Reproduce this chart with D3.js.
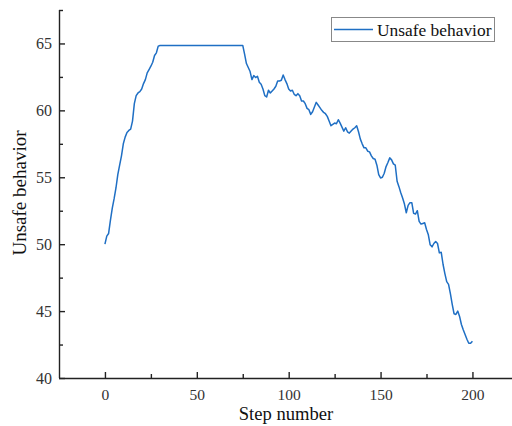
<!DOCTYPE html>
<html>
<head>
<meta charset="utf-8">
<script src="https://cdn.jsdelivr.net/npm/d3@7"></script>
<style>
  html, body { margin: 0; padding: 0; background: #fff; }
  svg { display: block; }
  text { font-family: "Liberation Serif", "Times New Roman", serif; }
</style>
</head>
<body>
<svg id="chart" width="512" height="426"></svg>
<script>
// Unsafe behavior level per simulation step (steps 0..200)
const rising = [
  50.0, 50.6, 50.8, 51.8, 52.7, 53.4, 54.2, 55.2, 55.9, 56.6,
  57.5, 58.0, 58.35, 58.5, 58.6, 59.2, 60.5, 61.1, 61.3, 61.4,
  61.6, 62.0, 62.3, 62.8, 63.05, 63.3, 63.6, 64.1, 64.3, 64.8
];
const plateau = [
  64.85, 64.85, 64.85, 64.85, 64.85, 64.85, 64.85, 64.85, 64.85, 64.85,
  64.85, 64.85, 64.85, 64.85, 64.85, 64.85, 64.85, 64.85, 64.85, 64.85,
  64.85, 64.85, 64.85, 64.85, 64.85, 64.85, 64.85, 64.85, 64.85, 64.85,
  64.85, 64.85, 64.85, 64.85, 64.85, 64.85, 64.85, 64.85, 64.85, 64.85,
  64.85, 64.85, 64.85, 64.85, 64.85, 64.85
];
const falling = [
  64.2, 63.5, 63.2, 62.9, 62.3, 62.6, 62.45, 62.55, 62.1, 61.95,
  61.6, 61.1, 61.0, 61.5, 61.3, 61.45, 61.6, 61.8, 62.2, 62.2,
  62.25, 62.65, 62.3, 62.0, 61.6, 61.45, 61.5, 61.2, 61.1, 61.25,
  61.1, 60.7, 60.7, 60.5, 60.15, 60.05, 59.7, 59.9, 60.25, 60.6,
  60.4, 60.2, 60.0, 59.85, 59.75, 59.55, 59.2, 58.85, 58.95, 59.05,
  59.0, 59.3, 59.05, 58.75, 58.45, 58.7, 58.4, 58.3, 58.45, 58.6,
  58.7, 58.85, 58.4, 57.85, 57.5, 57.2, 57.2, 56.95, 56.9, 56.6,
  56.4, 56.35, 55.9, 55.2, 54.95, 55.0, 55.3, 55.8, 56.1, 56.45,
  56.3, 56.0, 55.9, 54.7, 54.3, 53.85, 53.45, 53.0, 52.35, 52.9,
  53.1, 53.1, 52.3, 52.25, 52.5, 51.7, 51.5, 51.55, 51.6, 51.1,
  50.7, 49.95, 49.8, 50.05, 50.2, 50.05, 49.35, 49.4, 48.5, 47.8,
  47.2, 47.0, 46.3, 45.5, 44.8, 44.75, 45.0, 44.6, 44.0, 43.6,
  43.25, 42.9, 42.6, 42.6, 42.75
];
const unsafeValues = rising.concat(plateau, falling);

const xMajorTicks = [0, 50, 100, 150, 200];
const xMinorTicks = [25, 75, 125, 175];
const yMajorTicks = [40, 45, 50, 55, 60, 65];
const yMinorTicks = [42.5, 47.5, 52.5, 57.5, 62.5, 67.5];

const seriesName = "Unsafe behavior";
const xTitle = "Step number";
const yTitle = "Unsafe behavior";

const svg = d3.select("#chart");
const plotLeft = 59, plotBottom = 378, plotTop = 10;

const x = d3.scaleLinear().domain([-25, 225]).range([plotLeft, plotLeft + 250 * 1.8375]);
const y = d3.scaleLinear().domain([40, 67.5]).range([plotBottom, plotTop]);

const axisColor = "#222";

// minor ticks (inward, no labels)
svg.append("g")
  .attr("transform", `translate(0,${plotBottom})`)
  .call(d3.axisTop(x).tickValues(xMinorTicks).tickSize(4).tickFormat(""))
  .call(g => g.select(".domain").remove());
svg.append("g")
  .attr("transform", `translate(${plotLeft},0)`)
  .call(d3.axisRight(y).tickValues(yMinorTicks).tickSize(4).tickFormat(""))
  .call(g => g.select(".domain").remove());

// major ticks, inward, with labels placed outside
const xAxis = svg.append("g")
  .attr("transform", `translate(0,${plotBottom})`)
  .call(d3.axisTop(x).tickValues(xMajorTicks).tickSize(6).tickFormat(d3.format("d")));
xAxis.select(".domain").attr("d", `M${x.range()[0]},0.5H${x.range()[1]}`);
xAxis.selectAll(".tick text")
  .attr("y", 21.5).attr("dy", 0)
  .attr("font-size", 15.5)
  .attr("font-family", "Liberation Serif, serif");

const yAxis = svg.append("g")
  .attr("transform", `translate(${plotLeft},0)`)
  .call(d3.axisRight(y).tickValues(yMajorTicks).tickSize(6).tickFormat(d3.format("d")));
yAxis.select(".domain").attr("d", `M0.5,${y.range()[0]}V${y.range()[1]}`);
yAxis.selectAll(".tick text")
  .attr("x", -7).attr("text-anchor", "end")
  .attr("font-size", 16)
  .attr("font-family", "Liberation Serif, serif");

svg.selectAll(".domain, .tick line").attr("stroke", axisColor).attr("stroke-width", 1.4);
svg.selectAll(".tick text").attr("fill", "#333");

// data line
const line = d3.line()
  .x((d, i) => x(i))
  .y(d => y(d));

svg.append("path")
  .datum(unsafeValues)
  .attr("fill", "none")
  .attr("stroke", "#1f6fc4")
  .attr("stroke-width", 1.5)
  .attr("stroke-linejoin", "round")
  .attr("d", line);

// axis titles
svg.append("text")
  .attr("x", 286).attr("y", 420)
  .attr("text-anchor", "middle")
  .attr("font-size", 18.6)
  .attr("fill", "#111")
  .text(xTitle);

svg.append("text")
  .attr("transform", `translate(26,${193}) rotate(-90)`)
  .attr("text-anchor", "middle")
  .attr("font-size", 19)
  .attr("fill", "#111")
  .text(yTitle);

// legend
const legend = svg.append("g");
legend.append("rect")
  .attr("x", 331.5).attr("y", 17.5)
  .attr("width", 163).attr("height", 24)
  .attr("fill", "#fff")
  .attr("stroke", "#888")
  .attr("stroke-width", 1);
legend.append("line")
  .attr("x1", 334).attr("x2", 373)
  .attr("y1", 29.5).attr("y2", 29.5)
  .attr("stroke", "#1f6fc4")
  .attr("stroke-width", 1.5);
legend.append("text")
  .attr("x", 377).attr("y", 36)
  .attr("font-size", 17.4)
  .attr("fill", "#111")
  .text(seriesName);
</script>
</body>
</html>
